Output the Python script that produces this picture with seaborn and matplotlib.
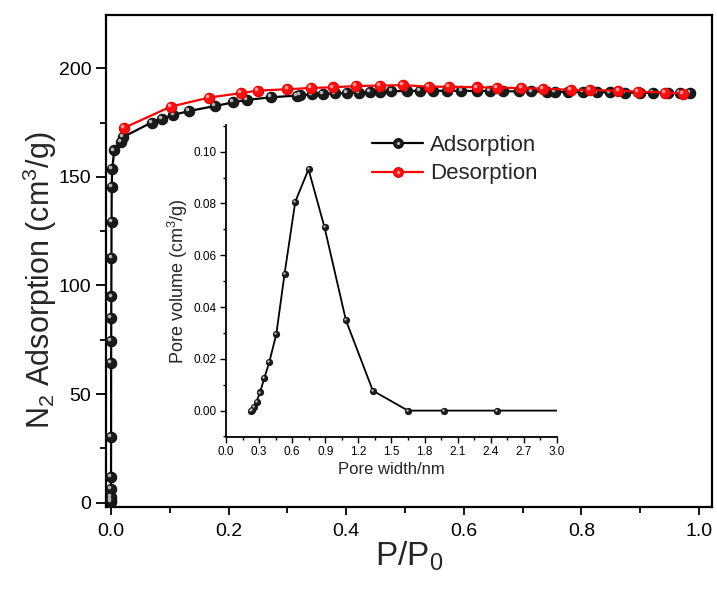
import matplotlib
matplotlib.use("Agg")
import matplotlib.pyplot as plt
import seaborn as sns
import numpy as np
from matplotlib.lines import Line2D
from matplotlib.legend_handler import HandlerTuple
from matplotlib.transforms import offset_copy
from matplotlib.ticker import MultipleLocator, FormatStrFormatter

# ---------------- data ----------------
ads_p = [0.0000, 0.0000, 0.0000, 0.0000, 0.0001, 0.0002, 0.0003, 0.0004, 0.0005,
         0.0006, 0.0008, 0.0010, 0.0013, 0.0020, 0.0056, 0.0165, 0.020,
         0.069, 0.086, 0.106, 0.133, 0.177, 0.208, 0.231, 0.272, 0.316, 0.321,
         0.341, 0.361, 0.381, 0.401, 0.421, 0.440, 0.458, 0.477, 0.503, 0.526,
         0.548, 0.571, 0.596, 0.622, 0.645, 0.667, 0.693, 0.715, 0.741, 0.755,
         0.778, 0.803, 0.826, 0.849, 0.874, 0.900, 0.922, 0.948, 0.968, 0.985]
ads_v = [0.5, 1.2, 2.8, 6.2, 12.0, 30.1, 64.5, 74.6, 84.9,
         94.9, 112.7, 129.1, 145.5, 153.5, 162.2, 166.2, 168.2,
         175.0, 176.7, 178.5, 180.3, 182.6, 184.3, 185.4, 186.6, 187.4, 187.6,
         187.9, 188.2, 188.4, 188.6, 188.8, 189.0, 189.2, 189.4, 189.5, 189.6,
         189.6, 189.6, 189.6, 189.5, 189.5, 189.4, 189.3, 189.3, 189.2, 189.1,
         189.0, 189.0, 188.9, 188.9, 188.8, 188.7, 188.7, 188.6, 188.5, 188.5]

des_p = [0.022, 0.1015, 0.167, 0.2206, 0.2495, 0.300, 0.3396, 0.378, 0.4167,
         0.4575, 0.496, 0.541, 0.575, 0.622, 0.656, 0.698, 0.735, 0.782, 0.815,
         0.863, 0.896, 0.942, 0.973]
des_v = [172.5, 182.3, 186.5, 188.5, 189.7, 190.3, 190.9, 191.2, 191.8,
         192.0, 192.2, 191.5, 191.5, 191.2, 191.1, 190.8, 190.6, 190.0, 189.9,
         189.7, 189.2, 188.8, 188.3]

pore_w = [0.226, 0.232, 0.254, 0.277, 0.308, 0.347, 0.392, 0.456, 0.531, 0.628,
          0.748, 0.893, 1.087, 1.331, 1.649, 1.977, 2.457, 3.0]
pore_v = [0.0000, 0.0003, 0.0015, 0.0035, 0.0070, 0.0125, 0.0187, 0.0295, 0.0529,
          0.0807, 0.0932, 0.0708, 0.0349, 0.0077, 0.0, 0.0, 0.0, 0.0]

main_xticks = [0.0, 0.2, 0.4, 0.6, 0.8, 1.0]
main_yticks = [0, 50, 100, 150, 200]
inset_xticks = [0.0, 0.3, 0.6, 0.9, 1.2, 1.5, 1.8, 2.1, 2.4, 2.7, 3.0]
inset_yticks = [0.00, 0.02, 0.04, 0.06, 0.08, 0.10]

# ---------------- style ----------------
sns.set_theme(style="ticks")
plt.rcParams['font.family'] = ['Liberation Sans', 'DejaVu Sans']
plt.rcParams['mathtext.fontset'] = 'custom'
plt.rcParams['mathtext.rm'] = 'Liberation Sans'
plt.rcParams['mathtext.it'] = 'Liberation Sans'
plt.rcParams['mathtext.bf'] = 'Liberation Sans:bold'

fig = plt.figure(figsize=(7.17, 5.92), dpi=100)
ax = fig.add_axes([0.1478, 0.1436, 0.8452, 0.8311])

# Adsorption
sns.lineplot(x=ads_p, y=ads_v, ax=ax, sort=False, estimator=None, color='black',
             lw=1.6, marker='o', markersize=7.5, markeredgecolor='#111111',
             markeredgewidth=0.8, markerfacecolor='#1a1a1a', zorder=3)
tr = offset_copy(ax.transData, fig=fig, x=-1.3, y=1.3, units='points')
ax.plot(ads_p, ads_v, ls='none', marker='o', ms=2.6, color='#b5b5b5',
        mec='none', transform=tr, zorder=4)

# Desorption
sns.lineplot(x=des_p, y=des_v, ax=ax, sort=False, estimator=None, color='#ff0000',
             lw=1.6, marker='o', markersize=7.5, markeredgecolor='#e00000',
             markeredgewidth=0.8, markerfacecolor='#ff1010', zorder=5)
ax.plot(des_p, des_v, ls='none', marker='o', ms=2.6, color='#ff9a9a',
        mec='none', transform=tr, zorder=6)

ax.set_xlim(-0.0085, 1.022)
ax.set_ylim(-2, 224.5)
ax.set_xticks(main_xticks)
ax.set_yticks(main_yticks)
ax.xaxis.set_minor_locator(MultipleLocator(0.1))
ax.yaxis.set_minor_locator(MultipleLocator(25))
ax.xaxis.set_major_formatter(FormatStrFormatter('%.1f'))
ax.tick_params(axis='both', which='major', direction='out', width=1.3,
               labelsize=14, color='black', labelcolor='black')
ax.tick_params(axis='y', which='major', length=7, pad=3.5)
ax.tick_params(axis='x', which='major', length=5.5, pad=6)
ax.tick_params(axis='both', which='minor', direction='out', length=4, width=1.3,
               color='black')
for s in ax.spines.values():
    s.set_linewidth(1.6)
    s.set_color('black')
    s.set_visible(True)
ax.set_xlabel(r'P/P$_\mathrm{0}$', fontsize=24, labelpad=0)
ax.set_ylabel(r'N$_\mathrm{2}$ Adsorption (cm$^\mathrm{3}$/g)', fontsize=22)
ax.yaxis.set_label_coords(-0.078, 0.46)

# legend
h_ads = (Line2D([], [], color='black', lw=1.6, marker='o', ms=7,
                mfc='#1a1a1a', mec='#111111', mew=0.8),
         Line2D([], [], ls='none', marker='o', ms=2.4, color='#b5b5b5', mec='none'))
h_des = (Line2D([], [], color='#ff0000', lw=1.6, marker='o', ms=7,
                mfc='#ff1010', mec='#e00000', mew=0.8),
         Line2D([], [], ls='none', marker='o', ms=2.4, color='#ff9a9a', mec='none'))
fig.legend([h_ads, h_des], ['Adsorption', 'Desorption'],
           handler_map={tuple: HandlerTuple(ndivide=1, pad=0)},
           loc='center left', bbox_to_anchor=(0.519, 0.7306), frameon=False,
           fontsize=16, handlelength=2.3, handletextpad=0.3, labelspacing=0.35,
           borderpad=0, borderaxespad=0)

# ---------------- inset ----------------
ins = fig.add_axes([0.3152, 0.2618, 0.4616, 0.5270])
ins.patch.set_alpha(0)
sns.lineplot(x=pore_w, y=pore_v, ax=ins, sort=False, estimator=None, color='black',
             lw=1.3, marker='o', markersize=4.6, markeredgecolor='#111111',
             markeredgewidth=0.6, markerfacecolor='#1a1a1a',
             markevery=list(range(len(pore_w) - 1)))
tr2 = offset_copy(ins.transData, fig=fig, x=-0.7, y=0.7, units='points')
ins.plot(pore_w[:-1], pore_v[:-1], ls='none', marker='o', ms=1.7, color='#c0c0c0',
         mec='none', transform=tr2)
ins.set_xlim(0, 3.0)
ins.set_ylim(-0.0102, 0.1103)
ins.set_xticks(inset_xticks)
ins.set_yticks(inset_yticks)
ins.xaxis.set_minor_locator(MultipleLocator(0.15))
ins.yaxis.set_minor_locator(MultipleLocator(0.01))
ins.xaxis.set_major_formatter(FormatStrFormatter('%.1f'))
ins.yaxis.set_major_formatter(FormatStrFormatter('%.2f'))
ins.tick_params(axis='both', which='major', direction='out', length=4, width=1.0,
                labelsize=8.5, color='black', labelcolor='black', pad=2.5)
ins.tick_params(axis='both', which='minor', direction='out', length=2.5, width=1.0,
                color='black')
for side in ['top', 'right']:
    ins.spines[side].set_visible(False)
for side in ['left', 'bottom']:
    ins.spines[side].set_linewidth(1.3)
    ins.spines[side].set_color('black')
ins.set_xlabel('Pore width/nm', fontsize=12, labelpad=3)
ins.set_ylabel(r'Pore volume (cm$^\mathrm{3}$/g)', fontsize=13, labelpad=3)

fig.savefig('out.png', dpi=100)
